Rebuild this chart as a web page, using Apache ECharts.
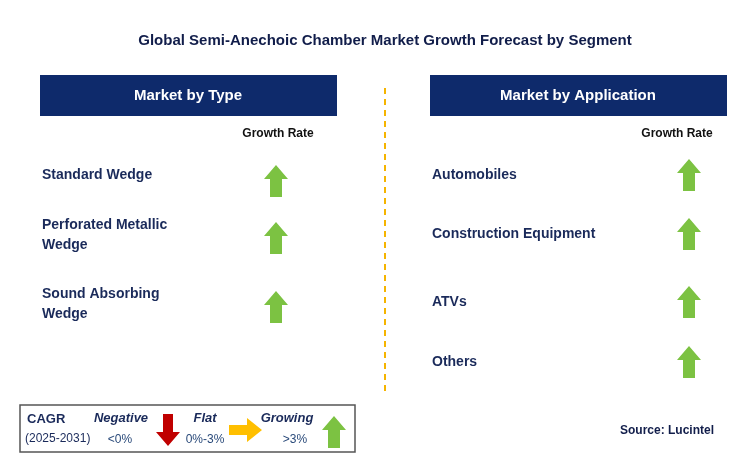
<!DOCTYPE html>
<html><head><meta charset="utf-8">
<script src="https://cdn.jsdelivr.net/npm/echarts@6/dist/echarts.min.js"></script>
<style>html,body{margin:0;padding:0;background:#fff}#container{width:739px;height:466px}</style>
</head><body><div id="container"></div>
<script>
var title = 'Global Semi-Anechoic Chamber Market Growth Forecast by Segment';
var typeLabels = ['Standard Wedge', 'Perforated Metallic\nWedge', 'Sound Absorbing\nWedge'];
var typeY = [175, 235, 304];
var appLabels = ['Automobiles', 'Construction Equipment', 'ATVs', 'Others'];
var appY = [175, 234, 302, 362];
var navy = '#0e2a6b', green = '#7cc242', font = 'Arial, Liberation Sans, sans-serif';

// up arrow centred at (cx, cy)
function upArrow(cx, cy, fill){
	return {type:'polygon', shape:{points:[[cx,cy-16],[cx+12,cy-2],[cx+6,cy-2],[cx+6,cy+16],[cx-6,cy+16],[cx-6,cy-2],[cx-12,cy-2]]}, style:{fill:fill}};
}
function txt(x, y, s, opt){
	opt = opt || {};
	return {type:'text', x:x, y:y, style:{text:s, fill:opt.fill||'#1a2a5a', font:(opt.italic?'italic ':'')+(opt.bold===false?'':'bold ')+(opt.size||14)+'px '+font, textAlign:opt.align||'left', textVerticalAlign:'middle', lineHeight:opt.lh||20}};
}

var els = [];
els.push(txt(385, 41, title, {align:'center', size:15, fill:'#111d4a'}));
[[40, 'Market by Type', 278], [430, 'Market by Application', 677]].forEach(function(p){
	els.push({type:'rect', shape:{x:p[0], y:75, width:297, height:41}, style:{fill:navy}});
	els.push(txt(p[0]+148, 96, p[1], {align:'center', size:15, fill:'#fff'}));
	els.push(txt(p[2], 134, 'Growth Rate', {align:'center', size:12, fill:'#111'}));
});
typeLabels.forEach(function(s, i){
	els.push(txt(42, typeY[i], s, {size:14}));
	els.push(upArrow(276, typeY[i]+6 - (i==0?0:3), green));
});
appLabels.forEach(function(s, i){
	els.push(txt(432, appY[i], s, {size:14}));
	els.push(upArrow(689, appY[i], green));
});
els.push({type:'line', shape:{x1:385, y1:88, x2:385, y2:395}, style:{stroke:'#f5b400', lineWidth:2, lineDash:[6,5]}});
// legend
els.push({type:'rect', shape:{x:20, y:405, width:335, height:47}, style:{fill:'#fff', stroke:'#555', lineWidth:1.5}});
els.push(txt(27, 419, 'CAGR', {size:13}));
els.push(txt(25, 439, '(2025-2031)', {size:12, bold:false, fill:'#1a2a5a'}));
els.push(txt(121, 418, 'Negative', {align:'center', italic:true, size:13}));
els.push(txt(120, 440, '<0%', {align:'center', bold:false, size:12, fill:'#2a4a7a'}));
els.push({type:'polygon', shape:{points:[[163,414],[173,414],[173,432],[180,432],[168,446],[156,432],[163,432]]}, style:{fill:'#c00000'}});
els.push(txt(205, 418, 'Flat', {align:'center', italic:true, size:13}));
els.push(txt(205, 440, '0%-3%', {align:'center', bold:false, size:12, fill:'#2a4a7a'}));
els.push({type:'polygon', shape:{points:[[229,425],[247,425],[247,418],[262,430],[247,442],[247,435],[229,435]]}, style:{fill:'#ffbf00'}});
els.push(txt(287, 418, 'Growing', {align:'center', italic:true, size:13}));
els.push(txt(295, 440, '>3%', {align:'center', bold:false, size:12, fill:'#2a4a7a'}));
els.push(upArrow(334, 432, green));
els.push(txt(620, 431, 'Source: Lucintel', {size:12, fill:'#111d4a'}));

var myChart = echarts.init(document.getElementById('container'));
myChart.setOption({backgroundColor:'#fff', graphic:{elements:els}});
</script></body></html>
